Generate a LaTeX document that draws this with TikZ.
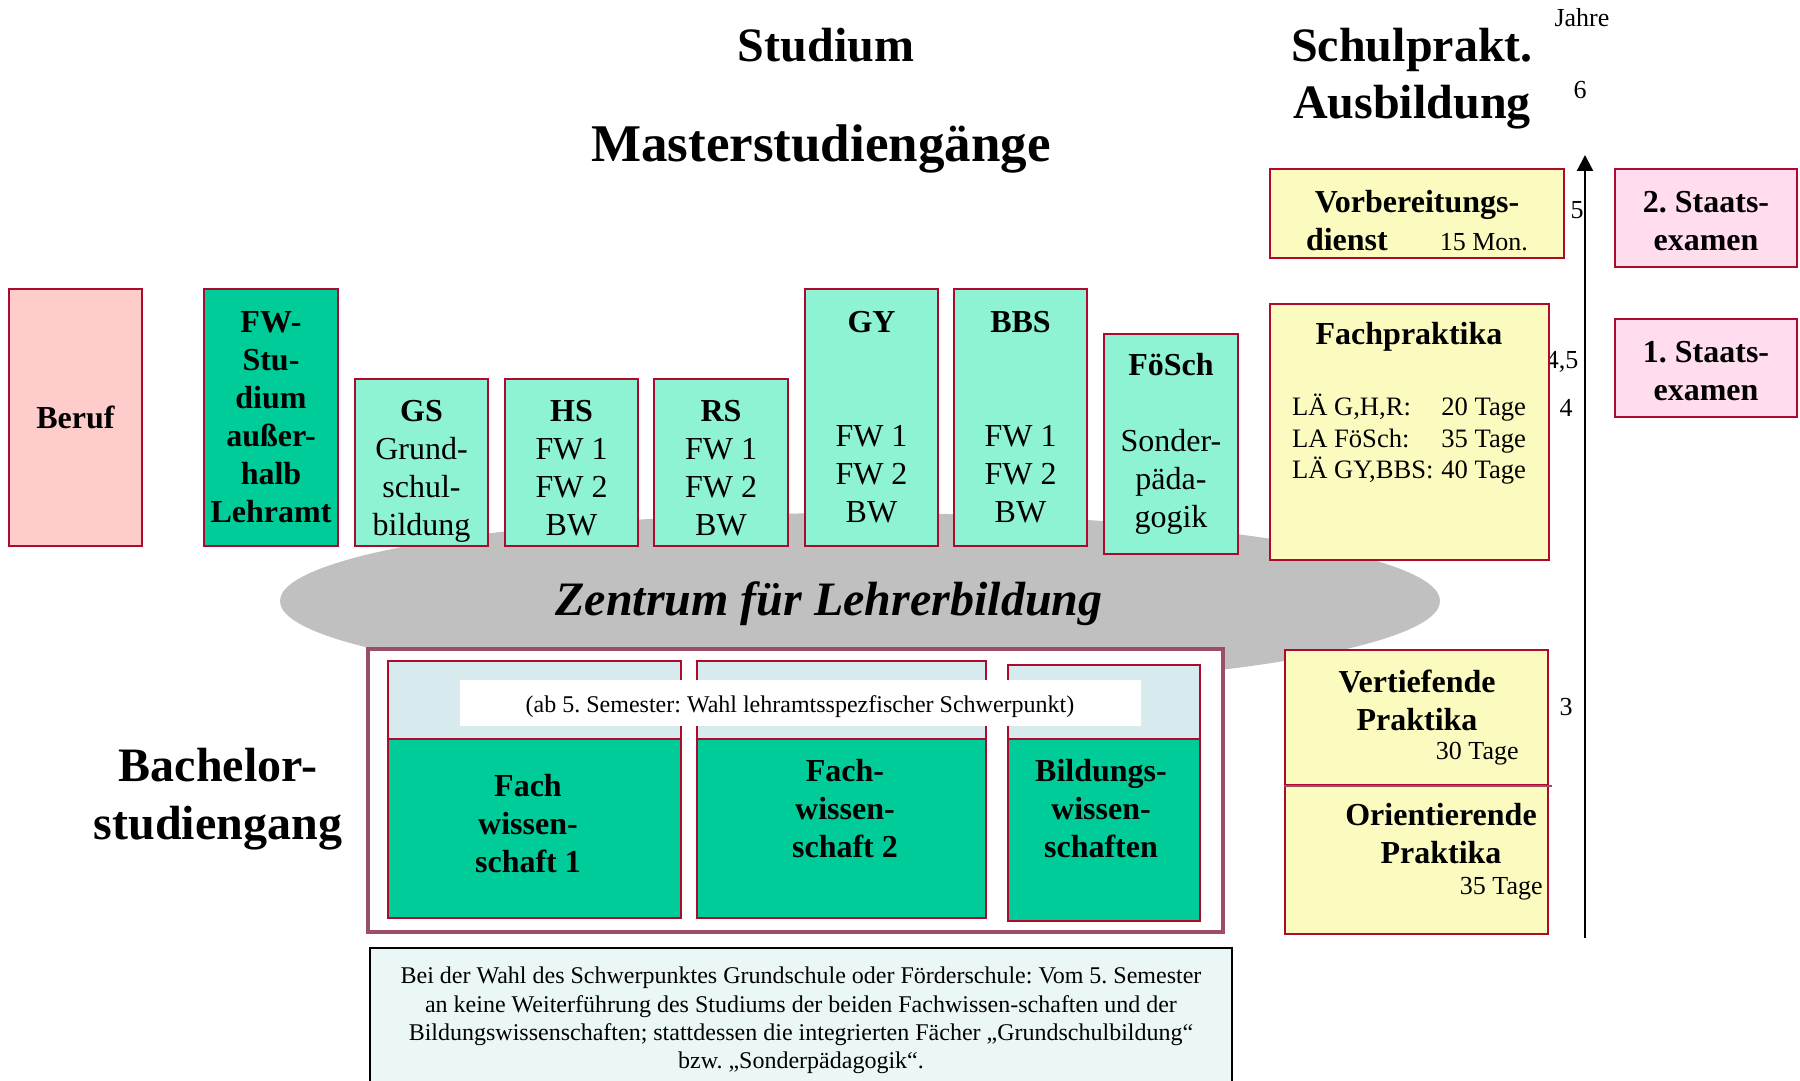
\documentclass[tikz,border=0pt]{standalone}
\usepackage{fontspec}
\setmainfont{Liberation Serif}
\usetikzlibrary{shapes.geometric,fit,arrows.meta}
\definecolor{bred}{HTML}{AE0A2E}
\definecolor{pinkb}{HTML}{FFCCCC}
\definecolor{pinks}{HTML}{FFDDEE}
\definecolor{greenb}{HTML}{00CC99}
\definecolor{teal}{HTML}{8EF2D4}
\definecolor{yel}{HTML}{FBFBC0}
\definecolor{zgrey}{HTML}{C0C0C0}
\definecolor{mauve}{HTML}{9B4F66}
\definecolor{lblue}{HTML}{D7EBEE}
\definecolor{notec}{HTML}{EAF7F6}
\newcommand\szTitle{\fontsize{24}{28.5}\selectfont}
\newcommand\szBox{\fontsize{16}{19}\selectfont}
\newcommand\szSmall{\fontsize{13}{15.8}\selectfont}
\newcommand\szLabel{\fontsize{12}{14}\selectfont}
\newcommand\szNote{\fontsize{12}{14.2}\selectfont}
\frenchspacing
\begin{document}
\frenchspacing
\begin{tikzpicture}[x=0.5pt,y=-0.5pt,
  box/.style={draw=bred, line width=1pt, inner sep=0pt},
  txt/.style={inner sep=0pt, align=center, font=\szBox},
  btxt/.style={inner sep=0pt, align=center, font=\szBox\bfseries},
]
\useasboundingbox[fill=white] (0,0) rectangle (1800,1081);
% ellipse
\node[ellipse, fill=zgrey, minimum width=580pt, minimum height=88pt, inner sep=0pt] (zlb) at (860,601) {};
\node[txt, anchor=base, font=\szTitle\bfseries\itshape] (zlbtext) at (829,615) {Zentrum für Lehrerbildung};
% titles
\node[txt, anchor=base, font=\szTitle\bfseries] (studium) at (826,62) {Studium};
\node[txt, anchor=base, font=\fontsize{26.5}{30}\selectfont\bfseries] (master) at (821,162) {Masterstudiengänge};
\node[txt, font=\szTitle\bfseries] (schulpr) at (1412,79) {Schulprakt.\\Ausbildung};
\node[txt, font=\fontsize{24}{29}\selectfont\bfseries] (bachtitle) at (218,799) {Bachelor-\\studiengang};
% years
\node[txt, font=\szSmall] (jahre) at (1582,18) {Jahre};
\node[txt, font=\szSmall] (y6) at (1580,90) {6};
\node[txt, font=\szSmall] (y5) at (1577,210) {5};
\node[txt, font=\szSmall] (y45) at (1562,362) {4,5};
\node[txt, font=\szSmall] (y4) at (1566,408) {4};
\node[txt, font=\szSmall] (y3) at (1566,707) {3};
\coordinate (ax0) at (1585,938);
\coordinate (ax1) at (1585,155);
\draw[line width=1.1pt, -{Triangle[length=8pt,width=8pt]}] (ax0) -- (ax1);
% master boxes
\node[box, fill=pinkb, fit={(9,289) (142,546)}] (beruf) {};
\node[btxt] (beruftext) at (beruf.center) {Beruf};
\node[box, fill=greenb, fit={(204,289) (338,546)}] (fwst) {};
\node[btxt] (fwsttext) at (fwst.center) {FW-\\Stu-\\dium\\außer-\\halb\\Lehramt};
\node[box, fill=teal, fit={(355,379) (488,546)}] (gs) {};
\node[txt, yshift=-4.5pt] (gstext) at (gs.center) {\textbf{GS}\\Grund-\\schul-\\bildung};
\node[box, fill=teal, fit={(505,379) (638,546)}] (hs) {};
\node[txt, yshift=-3pt] (hstext) at (hs.center) {\textbf{HS}\\FW 1\\FW 2\\BW};
\node[box, fill=teal, fit={(654,379) (788,546)}] (rs) {};
\node[txt, yshift=-3pt] (rstext) at (rs.center) {\textbf{RS}\\FW 1\\FW 2\\BW};
\node[box, fill=teal, fit={(805,289) (938,546)}] (gy) {};
\node[txt] (gytext) at (gy.center) {\textbf{GY}\\~\\~\\FW 1\\FW 2\\BW};
\node[box, fill=teal, fit={(954,289) (1087,546)}] (bbs) {};
\node[txt] (bbstext) at (bbs.center) {\textbf{BBS}\\~\\~\\FW 1\\FW 2\\BW};
\node[box, fill=teal, fit={(1104,334) (1238,554)}] (foesch) {};
\node[txt] (foeschtext) at (foesch.center) {\textbf{FöSch}\\~\\Sonder-\\päda-\\gogik};
% practical boxes
\node[box, fill=yel, fit={(1270,169) (1564,258)}] (vorb) {};
\node[btxt] (vorbtext) at (1417,221) {Vorbereitungs-\\dienst\hspace{26pt}{\mdseries\szSmall 15 Mon.}};
\node[box, fill=yel, fit={(1270,304) (1549,560)}] (fachpr) {};
\node[btxt, anchor=base] (fachprtitle) at (1409,344) {Fachpraktika};
\node[txt, font=\fontsize{13.3}{15.8}\selectfont] (fachprtab) at (1409,441) {\begin{tabular}{@{}l@{\hspace{4pt}}l@{}}LÄ G,H,R: & 20 Tage\\LA FöSch: & 35 Tage\\LÄ GY,BBS: & 40 Tage\end{tabular}};
\node[box, fill=pinks, fit={(1615,169) (1797,267)}] (stex2) {};
\node[btxt, yshift=-1.5pt] (stex2text) at (stex2.center) {2. Staats-\\examen};
\node[box, fill=pinks, fit={(1615,319) (1797,417)}] (stex1) {};
\node[btxt, yshift=-1.5pt] (stex1text) at (stex1.center) {1. Staats-\\examen};
\node[box, fill=yel, fit={(1285,650) (1548,785)}] (vert) {};
\node[box, fill=yel, fit={(1285,785) (1548,934)}] (orient) {};
\draw[mauve, line width=1pt] (vert.south west) -- ([xshift=1.5pt]vert.south east);
\node[btxt] (verttext) at (1417,700) {Vertiefende\\Praktika};
\node[txt, font=\szSmall, anchor=east] (vertdays) at (1519,754) {30 Tage};
\node[btxt] (orienttext) at (1441,834) {Orientierende\\Praktika};
\node[txt, font=\szSmall, anchor=east] (orientdays) at (1543,889) {35 Tage};
% bachelor
\node[draw=mauve, line width=2.3pt, fill=white, inner sep=0pt, fit={(368,649) (1223,932)}] (bach) {};
\node[box, fill=lblue, fit={(388,661) (681,739)}] (f1top) {};
\node[box, fill=greenb, fit={(388,739) (681,918)}] (f1) {};
\node[box, fill=lblue, fit={(697,661) (986,739)}] (f2top) {};
\node[box, fill=greenb, fit={(697,739) (986,918)}] (f2) {};
\node[box, fill=lblue, fit={(1008,665) (1200,739)}] (bwtop) {};
\node[box, fill=greenb, fit={(1008,739) (1200,921)}] (bw) {};
\node[fill=white, inner sep=0pt, fit={(460,680) (1141,726)}] (wahl) {};
\node[txt, font=\szLabel] (wahltext) at (800,707) {(ab 5. Semester: Wahl lehramtsspezfischer Schwerpunkt)};
\node[btxt] (f1text) at (528,824) {Fach\\wissen-\\schaft 1};
\node[btxt] (f2text) at (845,809) {Fach-\\wissen-\\schaft 2};
\node[btxt] (bwtext) at (1101,809) {Bildungs-\\wissen-\\schaften};
% note
\node[draw=black, line width=1pt, fill=notec, inner sep=0pt, fit={(370,948) (1232,1092)}] (note) {};
\node[txt, font=\szNote] (notetext) at (801,1020.5) {Bei der Wahl des Schwerpunktes Grundschule oder Förderschule: Vom 5. Semester\\an keine Weiterführung des Studiums der beiden Fachwissen-schaften und der\\Bildungswissenschaften; stattdessen die integrierten Fächer „Grundschulbildung“\\bzw. „Sonderpädagogik“.};
\end{tikzpicture}
\end{document}
